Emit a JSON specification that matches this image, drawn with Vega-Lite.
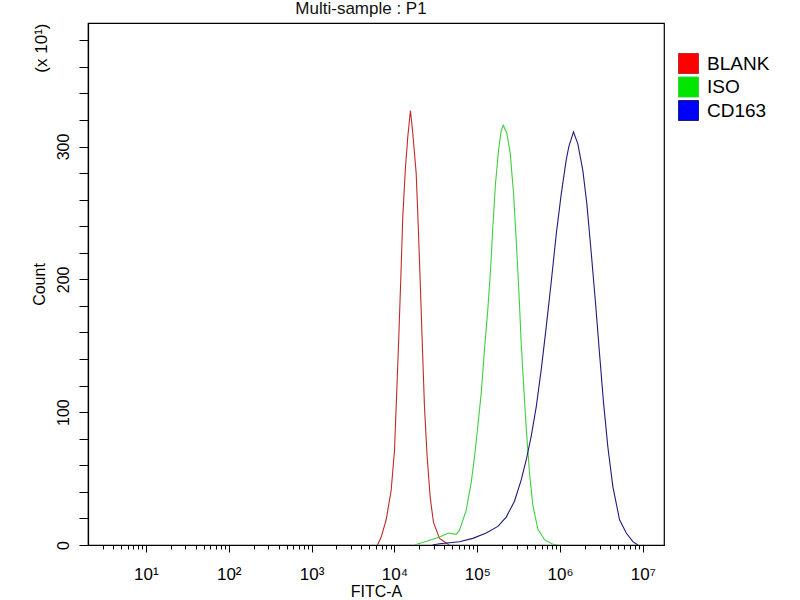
{
  "$schema": "https://vega.github.io/schema/vega-lite/v6.json",
  "description": "Flow cytometry overlay histogram, FITC-A, three samples",
  "autosize": "none",
  "width": 576,
  "height": 522,
  "padding": {"left": 88, "top": 23, "right": 136, "bottom": 55},
  "title": {
    "text": "Multi-sample : P1",
    "frame": "group",
    "fontSize": 17,
    "fontWeight": "normal",
    "color": "#111",
    "anchor": "middle",
    "dx": -15,
    "dy": 17,
    "offset": 9,
    "baseline": "alphabetic"
  },
  "data": {
    "values": [
      {"sample": "BLANK", "fitc": 6250, "count": 0},
      {"sample": "BLANK", "fitc": 6930, "count": 6},
      {"sample": "BLANK", "fitc": 7960, "count": 19},
      {"sample": "BLANK", "fitc": 9140, "count": 41},
      {"sample": "BLANK", "fitc": 10030, "count": 71},
      {"sample": "BLANK", "fitc": 10690, "count": 116},
      {"sample": "BLANK", "fitc": 11300, "count": 156},
      {"sample": "BLANK", "fitc": 12080, "count": 209},
      {"sample": "BLANK", "fitc": 12630, "count": 247},
      {"sample": "BLANK", "fitc": 13600, "count": 284},
      {"sample": "BLANK", "fitc": 14510, "count": 307},
      {"sample": "BLANK", "fitc": 15210, "count": 320},
      {"sample": "BLANK", "fitc": 15640, "count": 327},
      {"sample": "BLANK", "fitc": 16680, "count": 310},
      {"sample": "BLANK", "fitc": 18330, "count": 280},
      {"sample": "BLANK", "fitc": 19370, "count": 242},
      {"sample": "BLANK", "fitc": 20490, "count": 199},
      {"sample": "BLANK", "fitc": 21660, "count": 154},
      {"sample": "BLANK", "fitc": 23090, "count": 104},
      {"sample": "BLANK", "fitc": 24890, "count": 66},
      {"sample": "BLANK", "fitc": 27060, "count": 36},
      {"sample": "BLANK", "fitc": 29650, "count": 17},
      {"sample": "BLANK", "fitc": 35050, "count": 5},
      {"sample": "BLANK", "fitc": 42260, "count": 1.5},
      {"sample": "BLANK", "fitc": 46000, "count": 0},
      {"sample": "ISO", "fitc": 17500, "count": 0},
      {"sample": "ISO", "fitc": 25000, "count": 3},
      {"sample": "ISO", "fitc": 35070, "count": 6},
      {"sample": "ISO", "fitc": 45000, "count": 9},
      {"sample": "ISO", "fitc": 55720, "count": 8},
      {"sample": "ISO", "fitc": 61080, "count": 11},
      {"sample": "ISO", "fitc": 73570, "count": 26},
      {"sample": "ISO", "fitc": 84580, "count": 47},
      {"sample": "ISO", "fitc": 92720, "count": 66},
      {"sample": "ISO", "fitc": 101600, "count": 89},
      {"sample": "ISO", "fitc": 111700, "count": 114},
      {"sample": "ISO", "fitc": 122400, "count": 147},
      {"sample": "ISO", "fitc": 134200, "count": 177},
      {"sample": "ISO", "fitc": 144800, "count": 207},
      {"sample": "ISO", "fitc": 154300, "count": 239},
      {"sample": "ISO", "fitc": 166300, "count": 272},
      {"sample": "ISO", "fitc": 180800, "count": 297},
      {"sample": "ISO", "fitc": 194900, "count": 312},
      {"sample": "ISO", "fitc": 206100, "count": 316},
      {"sample": "ISO", "fitc": 227700, "count": 310},
      {"sample": "ISO", "fitc": 250300, "count": 295},
      {"sample": "ISO", "fitc": 274400, "count": 265},
      {"sample": "ISO", "fitc": 295600, "count": 230},
      {"sample": "ISO", "fitc": 318000, "count": 192},
      {"sample": "ISO", "fitc": 339800, "count": 152},
      {"sample": "ISO", "fitc": 365400, "count": 118},
      {"sample": "ISO", "fitc": 390600, "count": 88},
      {"sample": "ISO", "fitc": 428300, "count": 54},
      {"sample": "ISO", "fitc": 469400, "count": 30},
      {"sample": "ISO", "fitc": 539500, "count": 12},
      {"sample": "ISO", "fitc": 649900, "count": 4},
      {"sample": "ISO", "fitc": 818500, "count": 0.5},
      {"sample": "ISO", "fitc": 933000, "count": 0},
      {"sample": "CD163", "fitc": 28840, "count": 0},
      {"sample": "CD163", "fitc": 35050, "count": 1},
      {"sample": "CD163", "fitc": 61100, "count": 2.5},
      {"sample": "CD163", "fitc": 88500, "count": 5},
      {"sample": "CD163", "fitc": 128500, "count": 9},
      {"sample": "CD163", "fitc": 177500, "count": 14},
      {"sample": "CD163", "fitc": 224000, "count": 21},
      {"sample": "CD163", "fitc": 282000, "count": 33},
      {"sample": "CD163", "fitc": 340000, "count": 49},
      {"sample": "CD163", "fitc": 390600, "count": 64},
      {"sample": "CD163", "fitc": 449000, "count": 82},
      {"sample": "CD163", "fitc": 516000, "count": 104},
      {"sample": "CD163", "fitc": 593000, "count": 132},
      {"sample": "CD163", "fitc": 681000, "count": 164},
      {"sample": "CD163", "fitc": 783000, "count": 198},
      {"sample": "CD163", "fitc": 900000, "count": 234},
      {"sample": "CD163", "fitc": 1033000, "count": 264},
      {"sample": "CD163", "fitc": 1188000, "count": 290},
      {"sample": "CD163", "fitc": 1277000, "count": 300},
      {"sample": "CD163", "fitc": 1455000, "count": 311},
      {"sample": "CD163", "fitc": 1640000, "count": 302},
      {"sample": "CD163", "fitc": 1884000, "count": 282},
      {"sample": "CD163", "fitc": 2107000, "count": 257},
      {"sample": "CD163", "fitc": 2381000, "count": 220},
      {"sample": "CD163", "fitc": 2684000, "count": 182},
      {"sample": "CD163", "fitc": 2999000, "count": 144},
      {"sample": "CD163", "fitc": 3353000, "count": 107},
      {"sample": "CD163", "fitc": 3777000, "count": 74},
      {"sample": "CD163", "fitc": 4342000, "count": 44},
      {"sample": "CD163", "fitc": 5232000, "count": 19},
      {"sample": "CD163", "fitc": 6305000, "count": 9},
      {"sample": "CD163", "fitc": 7575000, "count": 2.5},
      {"sample": "CD163", "fitc": 8710000, "count": 0}
    ]
  },
  "layer": [
    {
      "mark": {"type": "line", "strokeWidth": 1.1, "clip": true},
      "encoding": {
        "x": {
          "field": "fitc",
          "type": "quantitative",
          "scale": {"type": "log", "domain": [2, 18000000], "nice": false},
          "axis": {
            "title": "FITC-A",
            "values": [3, 4, 5, 6, 7, 8, 9, 10, 20, 30, 40, 50, 60, 70, 80, 90, 100, 200, 300, 400, 500, 600, 700, 800, 900, 1000, 2000, 3000, 4000, 5000, 6000, 7000, 8000, 9000, 10000, 20000, 30000, 40000, 50000, 60000, 70000, 80000, 90000, 100000, 200000, 300000, 400000, 500000, 600000, 700000, 800000, 900000, 1000000, 2000000, 3000000, 4000000, 5000000, 6000000, 7000000, 8000000, 9000000, 10000000],
            "labelExpr": "abs(log(datum.value) / LN10 - round(log(datum.value) / LN10)) < 0.001 ? '10' + ['⁰', '¹', '²', '³', '⁴', '⁵', '⁶', '⁷'][round(log(datum.value) / LN10)] : ''",
            "labelOverlap": false,
            "labelFlush": false,
            "labelFontSize": 17,
            "tickSize": {
              "condition": {"test": "abs(log(datum.value) / LN10 - round(log(datum.value) / LN10)) < 0.001", "value": 7},
              "value": 4
            },
            "labelPadding": 14,
            "titlePadding": 1
          }
        },
        "y": {
          "field": "count",
          "type": "quantitative",
          "scale": {"domain": [0, 393], "nice": false},
          "axis": {
            "title": "Count",
            "values": [0, 20, 40, 60, 80, 100, 120, 140, 160, 180, 200, 220, 240, 260, 280, 300, 320, 340, 360, 380],
            "labelExpr": "datum.value % 100 === 0 ? datum.label : ''",
            "labelAngle": 270,
            "labelAlign": "center",
            "labelBaseline": "bottom",
            "labelPadding": 8,
            "tickSize": 9,
            "titlePadding": 8
          }
        },
        "stroke": {
          "field": "sample",
          "type": "nominal",
          "scale": {"domain": ["BLANK", "ISO", "CD163"], "range": ["#c02a2a", "#3fcf3f", "#1d1d7a"]},
          "legend": {
            "orient": "none",
            "legendX": 590,
            "legendY": 30,
            "title": null,
            "symbolType": "square",
            "symbolSize": 400,
            "labelFontSize": 19,
            "labelColor": "#000",
            "labelOffset": 8,
            "rowPadding": -1.5,
            "padding": 0,
            "encode": {
              "symbols": {
                "update": {
                  "fill": {"scale": "fill", "field": "value"},
                  "fillOpacity": {"value": 1},
                  "stroke": {"value": "#000"},
                  "strokeWidth": {"value": 1}
                }
              }
            }
          }
        }
      }
    },
    {
      "mark": {"type": "square", "size": 0},
      "encoding": {
        "x": {"field": "fitc", "type": "quantitative"},
        "y": {
          "field": "count",
          "type": "quantitative",
          "axis": {
            "title": "(x 10¹)",
            "orient": "left",
            "titleAnchor": "end",
            "titleFontSize": 17,
            "labels": false,
            "ticks": false,
            "domain": false,
            "titlePadding": 38
          }
        },
        "fill": {
          "field": "sample",
          "type": "nominal",
          "scale": {"domain": ["BLANK", "ISO", "CD163"], "range": ["#ff0000", "#00e600", "#0000ff"]},
          "legend": null
        }
      }
    }
  ],
  "resolve": {"axis": {"y": "independent"}},
  "config": {
    "font": "Liberation Sans",
    "view": {"stroke": "#000", "strokeWidth": 1.2},
    "axis": {
      "grid": false,
      "domainColor": "#000",
      "domainWidth": 1.2,
      "tickColor": "#000",
      "tickWidth": 1,
      "labelColor": "#000",
      "labelFontSize": 16,
      "titleColor": "#000",
      "titleFontSize": 16,
      "titleFontWeight": "normal"
    }
  }
}
